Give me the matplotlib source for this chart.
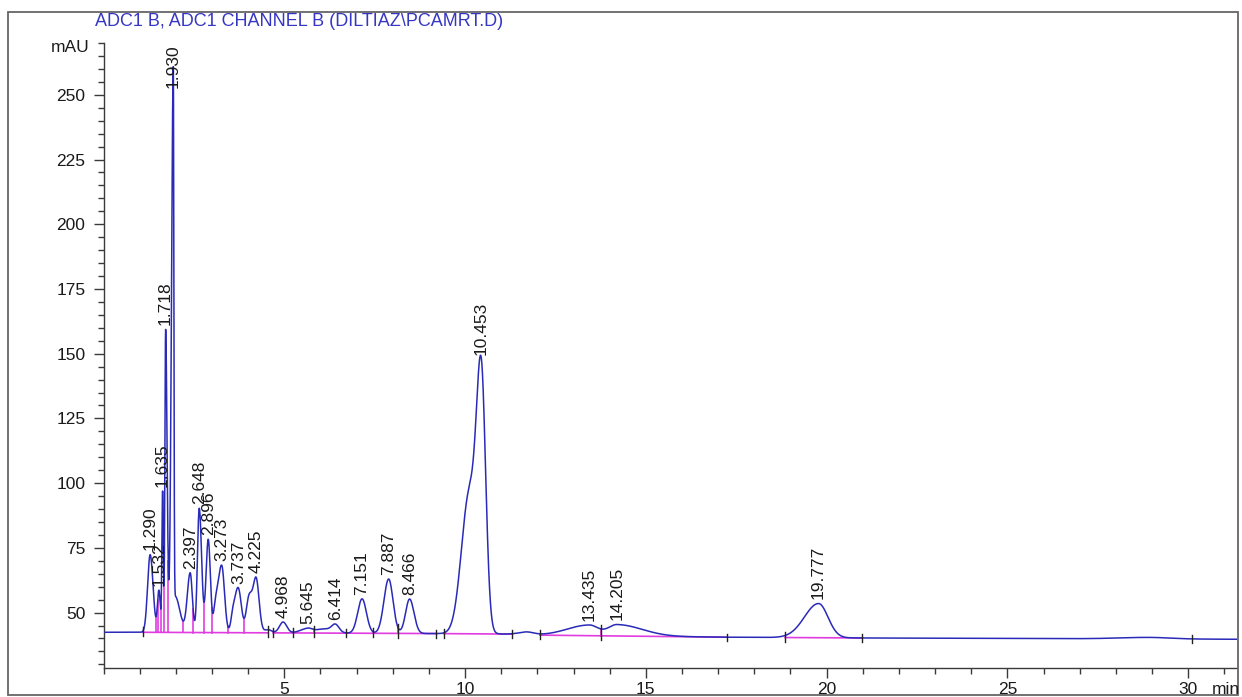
import numpy as np
import matplotlib
matplotlib.use("Agg")
import matplotlib.pyplot as plt
from matplotlib.patches import Rectangle
from matplotlib.ticker import MultipleLocator

plt.rcParams['font.family'] = ['Liberation Sans', 'DejaVu Sans']

# ---------------- data ----------------
title_text = "ADC1 B, ADC1 CHANNEL B (DILTIAZ\\PCAMRT.D)"
y_unit = "mAU"
x_unit = "min"

# labelled peaks: retention time, height above baseline (mAU), left/right widths (min)
peak_rt = [1.290, 1.532, 1.635, 1.718, 1.930, 2.397, 2.648, 2.896, 3.273, 3.737,
           4.225, 4.968, 5.645, 6.414, 7.151, 7.887, 8.466, 10.453, 13.435, 14.205, 19.777]
peak_height = [30.0, 16.0, 54.0, 117.0, 215.0, 23.0, 48.0, 36.0, 25.0, 15.7,
               20.0, 4.2, 1.6, 2.8, 13.3, 21.0, 13.3, 89.0, 4.1, 4.4, 13.2]
peak_sigma_left = [0.07, 0.04, 0.02, 0.02, 0.05, 0.08, 0.05, 0.06, 0.09, 0.08,
                   0.08, 0.10, 0.20, 0.10, 0.12, 0.13, 0.11, 0.13, 0.60, 0.25, 0.39]
peak_sigma_right = [0.08, 0.04, 0.02, 0.04, 0.016, 0.06, 0.065, 0.06, 0.075, 0.08,
                    0.08, 0.10, 0.12, 0.10, 0.12, 0.12, 0.12, 0.12, 0.25, 0.69, 0.26]

# unlabelled shoulders / humps seen in the trace
shoulder_rt = [1.98, 3.10, 3.59, 4.03, 4.55, 6.10, 10.12, 11.70, 28.9]
shoulder_height = [14.0, 10.0, 8.0, 14.0, 1.2, 1.6, 54.0, 1.0, 0.6]
shoulder_sigma_left = [0.03, 0.05, 0.06, 0.08, 0.12, 0.25, 0.22, 0.20, 0.80]
shoulder_sigma_right = [0.13, 0.08, 0.08, 0.09, 0.10, 0.25, 0.22, 0.20, 0.60]

# detector baseline drift
baseline_t = [0.0, 1.0, 9.2, 11.3, 12.06, 17.2, 21.0, 31.4]
baseline_v = [42.4, 42.4, 41.9, 41.7, 41.3, 40.5, 40.2, 39.7]

# integration marks
integ_baseline_segments = [(1.09, 4.55), (4.69, 9.21), (9.41, 11.31), (12.07, 17.24), (18.85, 20.98)]
drop_line_t = [1.44, 1.50, 1.59, 1.67, 1.79, 2.21, 2.48, 2.77, 3.00, 3.44, 3.89,
               5.23, 5.81, 7.45, 8.15, 13.77]
event_tick_t = [1.09, 4.55, 4.69, 5.23, 5.81, 6.72, 7.45, 8.15, 9.21, 9.41, 11.31,
                12.07, 13.77, 17.24, 18.85, 20.98, 30.1]

x_major = [5, 10, 15, 20, 25, 30]
y_major = [50, 75, 100, 125, 150, 175, 200, 225, 250]

# ---------------- styles ----------------
TRACE_C = '#2a2ab8'
TITLE_C = '#3636c4'
MAG_C = '#e03ce0'
AX_C = '#3a3a3a'
FS = 12.5

W, H = 1242, 697
fig = plt.figure(figsize=(W / 100, H / 100), dpi=100)
x0_px, x1_px, ytop_px, ybot_px = 103.5, 1237.0, 43.0, 668.0
ax = fig.add_axes([x0_px / W, 1 - ybot_px / H, (x1_px - x0_px) / W, (ybot_px - ytop_px) / H])
ax.set_xlim(0, 31.35)
ax.set_ylim(28.6, 270.0)
ax.patch.set_alpha(0)


def asym_gauss(t, c, h, sl, sr):
    s = np.where(t < c, sl, sr)
    return h * np.exp(-0.5 * ((t - c) / s) ** 2)


def trace(t):
    t = np.asarray(t, dtype=float)
    y = np.interp(t, baseline_t, baseline_v)
    for c, h, sl, sr in zip(peak_rt, peak_height, peak_sigma_left, peak_sigma_right):
        y = y + asym_gauss(t, c, h, sl, sr)
    for c, h, sl, sr in zip(shoulder_rt, shoulder_height, shoulder_sigma_left, shoulder_sigma_right):
        y = y + asym_gauss(t, c, h, sl, sr)
    return y


tt = np.linspace(0, 31.35, 16000)
yy = trace(tt)

# integration baseline segments
for a, b in integ_baseline_segments:
    seg = np.array([a, b])
    ax.plot(seg, np.interp(seg, baseline_t, baseline_v), color=MAG_C, lw=1.2, zorder=2)

# drop lines
for d in drop_line_t:
    b = float(np.interp(d, baseline_t, baseline_v))
    ax.plot([d, d], [b, float(trace(d))], color=MAG_C, lw=1.2, zorder=2)

# trace
ax.plot(tt, yy, color=TRACE_C, lw=1.1, zorder=3)

# event ticks
for e in event_tick_t:
    b = float(np.interp(e, baseline_t, baseline_v))
    v = float(trace(e))
    ax.plot([e, e], [min(b, v) - 1.6, v + 1.4], color='#222222', lw=1.0, zorder=4)

# peak labels
for c in peak_rt:
    v = float(trace(c))
    ax.annotate(f"{c:.3f}", (c, min(v, 251.0)), xytext=(0, 3), textcoords='offset points',
                rotation=90, ha='center', va='bottom', fontsize=FS, color='#1a1a1a', zorder=5)

# axes styling
for s in ['top', 'right']:
    ax.spines[s].set_visible(False)
for s in ['left', 'bottom']:
    ax.spines[s].set_color(AX_C)
    ax.spines[s].set_linewidth(1.0)
ax.set_xticks(x_major)
ax.set_yticks(y_major)
ax.xaxis.set_minor_locator(MultipleLocator(1))
ax.yaxis.set_minor_locator(MultipleLocator(5))
ax.tick_params(which='major', direction='out', length=7, width=1.0, color=AX_C,
               labelsize=FS, labelcolor='#1a1a1a')
ax.tick_params(which='minor', direction='out', length=4.5, width=1.0, color=AX_C)
ax.tick_params(axis='x', which='major', pad=3)
ax.tick_params(axis='y', which='major', pad=6)

fig.text(90 / W, 1 - 48 / H, y_unit, ha='right', va='center', fontsize=FS, color='#1a1a1a')
fig.text(1240 / W, 1 - 689 / H, x_unit, ha='right', va='center', fontsize=FS, color='#1a1a1a')

# title, scaled to span the same width as in the reference
ttl = fig.text(95 / W, 1 - 21 / H, title_text, ha='left', va='center', fontsize=11, color=TITLE_C)
fig.canvas.draw()
wpx = ttl.get_window_extent().width
ttl.set_fontsize(11 * 407.0 / wpx)

# outer frame
fig.patches.append(Rectangle((8 / W, 1 - 695 / H), (1238 - 8) / W, (695 - 12) / H,
                             transform=fig.transFigure, fill=False, ec='#666666', lw=1.3))

fig.savefig("out.png", dpi=100)
